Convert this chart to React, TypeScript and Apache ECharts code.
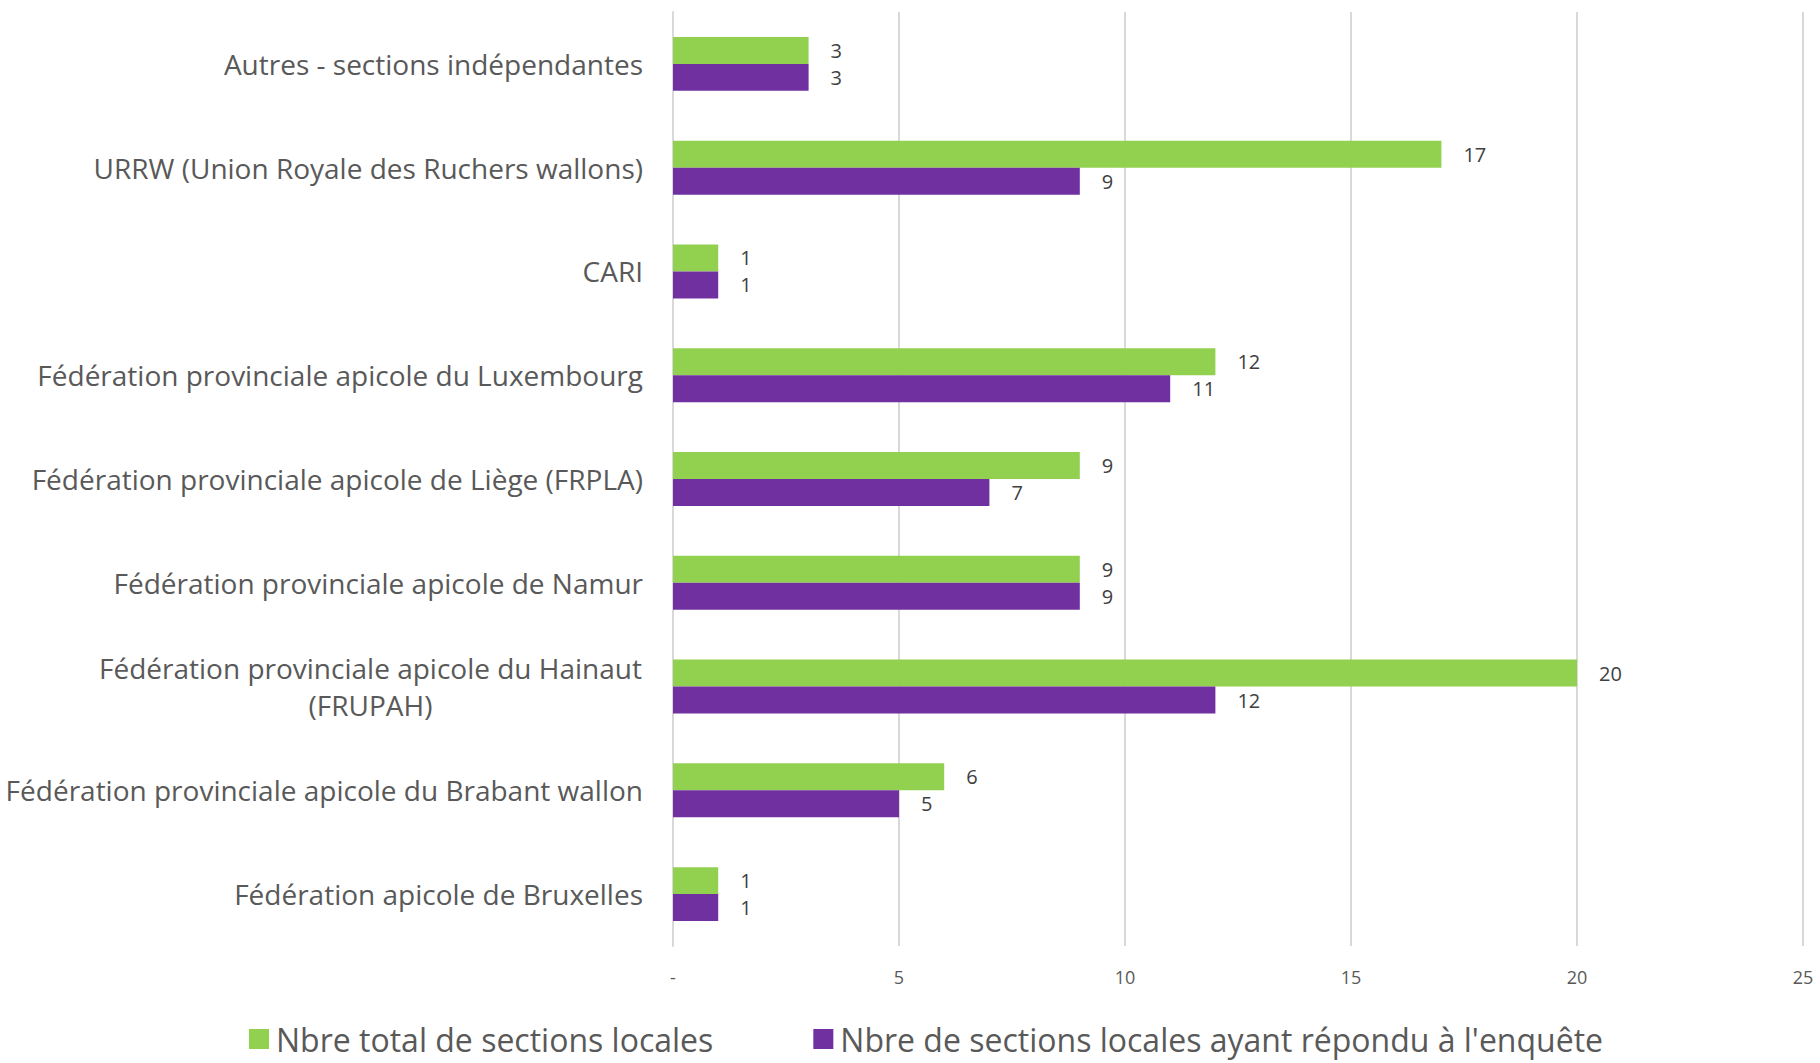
import React, { useEffect, useRef } from "react";
import * as echarts from "echarts";

const categories = [
  "Autres - sections indépendantes",
  "URRW (Union Royale des Ruchers wallons)",
  "CARI",
  "Fédération provinciale apicole du Luxembourg",
  "Fédération provinciale apicole de Liège (FRPLA)",
  "Fédération provinciale apicole de Namur",
  "Fédération provinciale apicole du Hainaut\n(FRUPAH)",
  "Fédération provinciale apicole du Brabant wallon",
  "Fédération apicole de Bruxelles",
];
const totalSections = [3, 17, 1, 12, 9, 9, 20, 6, 1];
const answeredSections = [3, 9, 1, 11, 7, 9, 12, 5, 1];
const seriesNames = [
  "Nbre total de sections locales",
  "Nbre de sections locales ayant répondu à l'enquête",
];
const xTicks = [0, 5, 10, 15, 20, 25];

const FONT = "'Open Sans', 'Noto Sans', sans-serif";
const CAT_SIZE = 28;

function measure(text: string, size: number): number {
  const c = document.createElement("canvas");
  const ctx = c.getContext("2d")!;
  ctx.font = `${size}px 'Open Sans'`;
  return ctx.measureText(text).width;
}

export default function App() {
  const ref = useRef<HTMLDivElement>(null);
  useEffect(() => {
    if (!ref.current) return;
    const chart = echarts.init(ref.current, undefined, { renderer: "svg" });
    const hainautFirst = categories[6].split("\n")[0];
    const w = Math.ceil(measure(hainautFirst, CAT_SIZE)) + 2;
    chart.setOption({
      animation: false,
      backgroundColor: "#ffffff",
      grid: { left: 673, right: 17, top: 12, bottom: 117, containLabel: false },
      xAxis: {
        type: "value",
        min: xTicks[0],
        max: xTicks[xTicks.length - 1],
        interval: 5,
        axisLine: { show: false },
        axisTick: { show: false },
        splitLine: { show: true, lineStyle: { color: "#d9d9d9", width: 2 } },
        axisLabel: {
          color: "#595959",
          fontFamily: FONT,
          fontSize: 18,
          margin: 22,
          formatter: (v: number) => (v === 0 ? "-" : String(v)),
        },
      },
      yAxis: {
        type: "category",
        inverse: true,
        data: categories,
        axisLine: { show: true, lineStyle: { color: "#d9d9d9", width: 2 } },
        axisTick: { show: false },
        axisLabel: {
          color: "#595959",
          fontFamily: FONT,
          fontSize: CAT_SIZE,
          margin: 30,
          lineHeight: 37,
          formatter: (v: string) => {
            if (v.includes("\n")) {
              const parts = v.split("\n");
              return parts.map((p) => `{c|${p}}`).join("\n");
            }
            return v;
          },
          rich: {
            c: {
              width: w,
              align: "center",
              color: "#595959",
              fontFamily: FONT,
              fontSize: CAT_SIZE,
              lineHeight: 37,
            },
          },
        },
      },
      legend: {
        top: 1016,
        left: 244,
        itemWidth: 20,
        itemHeight: 20,
        itemGap: 100,
        icon: "rect",
        textStyle: {
          color: "#595959",
          fontFamily: FONT,
          fontSize: 32,
          lineHeight: 36,
          padding: [0, 0, 0, 2],
        },
        data: seriesNames,
      },
      series: [
        {
          name: seriesNames[0],
          type: "bar",
          data: totalSections,
          barGap: "0%",
          barCategoryGap: "48%",
          itemStyle: { color: "#92d050" },
          label: {
            show: true,
            position: "right",
            distance: 22,
            color: "#404040",
            fontFamily: FONT,
            fontSize: 20,
          },
        },
        {
          name: seriesNames[1],
          type: "bar",
          data: answeredSections,
          itemStyle: { color: "#7030a0" },
          label: {
            show: true,
            position: "right",
            distance: 22,
            color: "#404040",
            fontFamily: FONT,
            fontSize: 20,
          },
        },
      ],
    });
    return () => chart.dispose();
  }, []);
  return (
    <div
      ref={ref}
      style={{ position: "fixed", left: 0, top: 0, width: 1820, height: 1063 }}
    />
  );
}
